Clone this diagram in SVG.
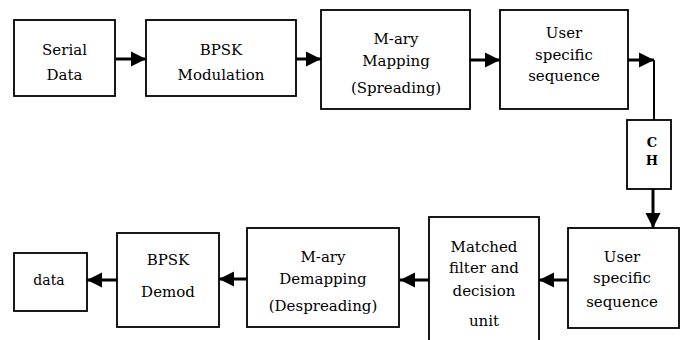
<svg xmlns="http://www.w3.org/2000/svg" width="684" height="340" viewBox="0 0 684 340">
<style>
rect{fill:#fff;stroke:#000;stroke-width:1.8}
text{font-family:"DejaVu Serif",serif;font-size:15px;text-anchor:middle;fill:#000}
.b{font-weight:bold;font-size:13px}
.c line{stroke:#000;stroke-width:3;fill:none}
</style>
<defs>
<marker id="ah" markerUnits="userSpaceOnUse" markerWidth="16" markerHeight="16" refX="15" refY="8" orient="auto">
<path d="M0,0.5 L15,8 L0,15.5 Z" fill="#000"/>
</marker>
</defs>
<g class="c">
<line x1="116" y1="59" x2="146" y2="59" marker-end="url(#ah)"/>
<line x1="296" y1="59" x2="321" y2="59" marker-end="url(#ah)"/>
<line x1="470" y1="60" x2="500" y2="60" marker-end="url(#ah)"/>
<line x1="628" y1="60" x2="654" y2="60" marker-end="url(#ah)"/>
<line x1="654" y1="60" x2="654" y2="120" style="stroke-width:2"/>
<line x1="653" y1="189" x2="653" y2="228" marker-end="url(#ah)"/>
<line x1="568" y1="280" x2="539" y2="280" marker-end="url(#ah)"/>
<line x1="429" y1="280" x2="400" y2="280" marker-end="url(#ah)"/>
<line x1="247" y1="279" x2="219" y2="279" marker-end="url(#ah)"/>
<line x1="117" y1="280" x2="87" y2="280" marker-end="url(#ah)"/>
</g>
<g id="serial"><rect x="14" y="20" width="101" height="76"/><text x="64.5" y="55">Serial</text><text x="64.5" y="80">Data</text></g>
<g id="bpsk"><rect x="146" y="20" width="150" height="76"/><text x="221" y="55">BPSK</text><text x="221" y="80">Modulation</text></g>
<g id="mary"><rect x="321" y="10" width="149" height="99"/><text x="396" y="44">M-ary</text><text x="396" y="66">Mapping</text><text x="396" y="93">(Spreading)</text></g>
<g id="user1"><rect x="500" y="10" width="128" height="99"/><text x="564" y="38">User</text><text x="564" y="60">specific</text><text x="564" y="81">sequence</text></g>
<g id="ch"><rect x="627" y="120" width="44" height="69"/><text class="b" x="652" y="147">C</text><text class="b" x="652" y="165">H</text></g>
<g id="user2"><rect x="568" y="228" width="111" height="100"/><text x="622" y="262">User</text><text x="622" y="283">specific</text><text x="622" y="307">sequence</text></g>
<g id="matched"><rect x="429" y="217" width="110" height="130"/><text x="484" y="252">Matched</text><text x="484" y="273">filter and</text><text x="484" y="296">decision</text><text x="484" y="326">unit</text></g>
<g id="demap"><rect x="247" y="228" width="152" height="99"/><text x="323" y="262">M-ary</text><text x="323" y="284">Demapping</text><text x="323" y="311">(Despreading)</text></g>
<g id="demod"><rect x="117" y="233" width="102" height="94"/><text x="168" y="265">BPSK</text><text x="168" y="297">Demod</text></g>
<g id="data"><rect x="14" y="253" width="73" height="58"/><text x="49" y="285" style="font-size:14px">data</text></g>
</svg>
